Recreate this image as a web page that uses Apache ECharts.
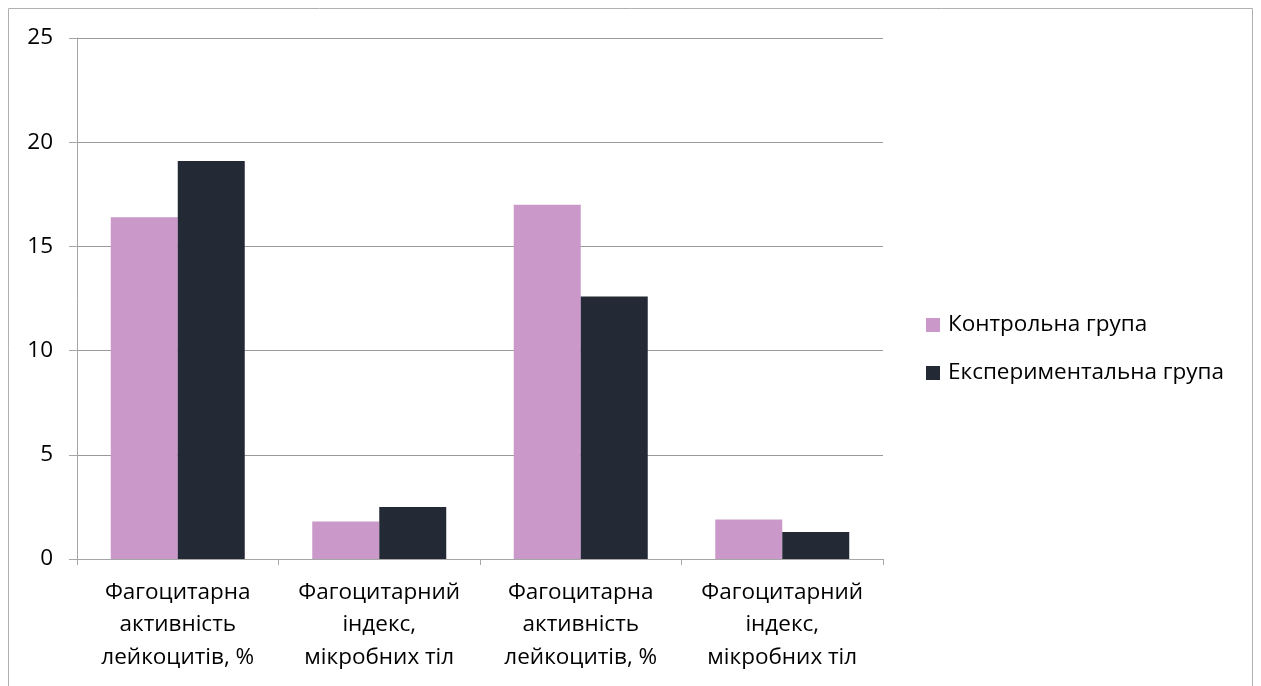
<!DOCTYPE html>
<html lang="uk">
<head>
    <meta charset="UTF-8">
    <title>Фагоцитоз</title>
    <script src="https://cdn.jsdelivr.net/npm/echarts@6/dist/echarts.min.js"></script>
    <style>
        html, body { margin: 0; padding: 0; background: #ffffff; }
        #main { width: 1261px; height: 686px; }
    </style>
</head>
<body>
<div id="main"></div>
<script>
    // data
    let categories = [
        'Фагоцитарна\nактивність\nлейкоцитів, %',
        'Фагоцитарний\nіндекс,\nмікробних тіл',
        'Фагоцитарна\nактивність\nлейкоцитів, %',
        'Фагоцитарний\nіндекс,\nмікробних тіл'
    ];
    let seriesNames = ['Контрольна група', 'Експериментальна група'];
    let control = [16.4, 1.8, 17.0, 1.9];
    let experimental = [19.1, 2.5, 12.6, 1.3];
    let yTicks = [0, 5, 10, 15, 20, 25];

    let font = '"Open Sans", "Noto Sans", sans-serif';
    let fontSize = 22.5;
    let grey = '#a6a6a6';

    let myChart = echarts.init(document.getElementById('main'));
    let option = {
        backgroundColor: '#ffffff',
        animation: false,
        textStyle: { fontFamily: font },
        graphic: [{
            type: 'rect',
            shape: { x: 8.5, y: 8.5, width: 1244, height: 700 },
            style: { fill: 'none', stroke: '#b0b0b0', lineWidth: 1 },
            silent: true
        }],
        grid: { left: 77, top: 38, right: 378, bottom: 127 },
        legend: {
            orient: 'vertical',
            left: 926,
            top: 313,
            padding: 0,
            itemWidth: 14,
            itemHeight: 14,
            itemGap: 24,
            icon: 'rect',
            data: seriesNames,
            textStyle: {
                fontFamily: font,
                fontSize: fontSize,
                color: '#000',
                lineHeight: 24,
                padding: [0, 0, 0, 3]
            }
        },
        xAxis: {
            type: 'category',
            data: categories,
            axisLine: { lineStyle: { color: grey, width: 1 } },
            axisTick: { show: true, length: 6, lineStyle: { color: grey } },
            axisLabel: {
                interval: 0,
                margin: 17,
                fontFamily: font,
                fontSize: fontSize,
                lineHeight: 32.5,
                color: '#000'
            }
        },
        yAxis: {
            type: 'value',
            min: yTicks[0],
            max: yTicks[yTicks.length - 1],
            interval: 5,
            axisLine: { show: true, lineStyle: { color: grey, width: 1 } },
            axisTick: { show: true, length: 8, lineStyle: { color: grey } },
            axisLabel: {
                margin: 24,
                fontFamily: font,
                fontSize: fontSize,
                color: '#000'
            },
            splitLine: { show: true, lineStyle: { color: '#999999', width: 1 } }
        },
        series: [{
            name: seriesNames[0],
            type: 'bar',
            data: control,
            barGap: '0%',
            barCategoryGap: '33.5%',
            itemStyle: { color: '#ca99c9' }
        }, {
            name: seriesNames[1],
            type: 'bar',
            data: experimental,
            barGap: '0%',
            barCategoryGap: '33.5%',
            itemStyle: { color: '#232a35' }
        }]
    };
    myChart.setOption(option);
</script>
</body>
</html>
